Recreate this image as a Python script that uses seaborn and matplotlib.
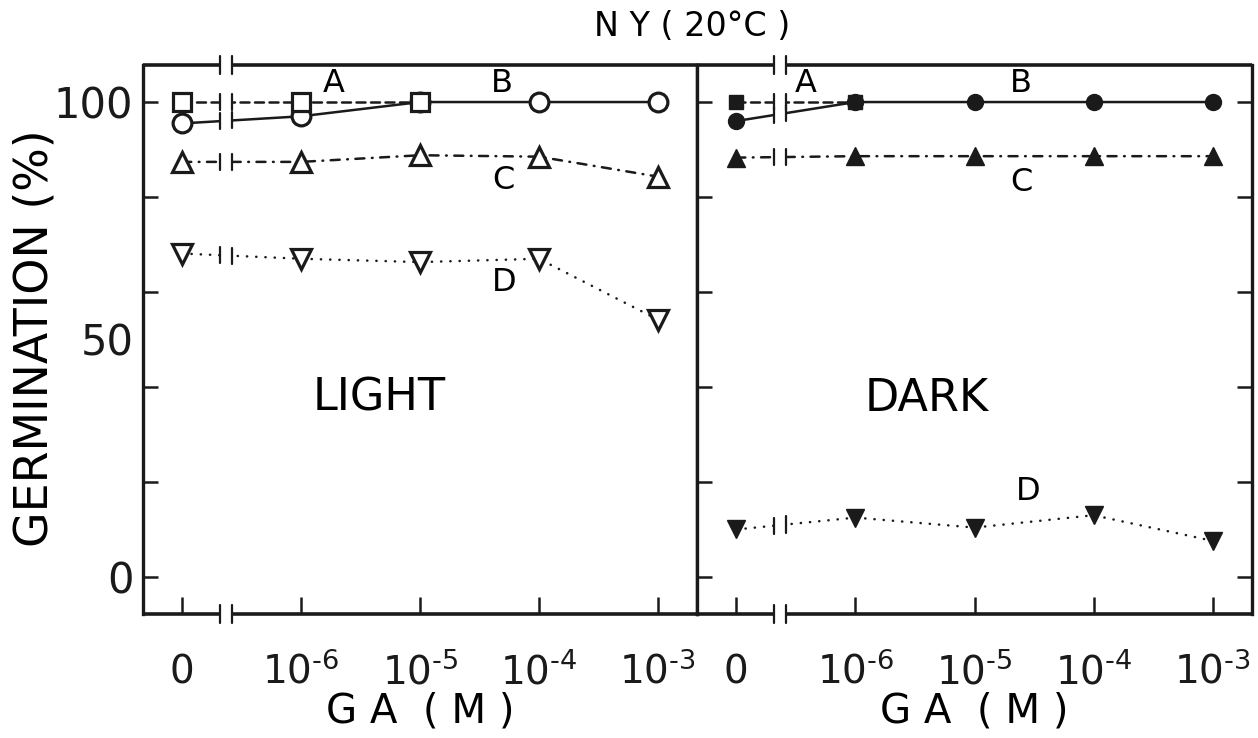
import numpy as np
import matplotlib
matplotlib.use("Agg")
import matplotlib.pyplot as plt
import seaborn as sns
from matplotlib.transforms import blended_transform_factory

sns.set_theme(style="white")
plt.rcParams["font.family"] = ["DejaVu Sans"]
plt.rcParams["mathtext.fontset"] = "dejavusans"
for k in ("text.color", "axes.labelcolor", "xtick.color", "ytick.color",
          "axes.edgecolor"):
    plt.rcParams[k] = "black"

# ---------------- data ----------------
conc_labels = ["0", r"$10^{\text{-}6}$", r"$10^{\text{-}5}$",
               r"$10^{\text{-}4}$", r"$10^{\text{-}3}$"]
conc_pos = [0, 1, 2, 3, 4]

light_A_pos = [0, 1, 2]
light_A = [100, 100, 100]
light_B = [95.5, 97, 100, 100, 100]
light_C = [87.4, 87.4, 88.8, 88.5, 84.3]
light_D = [68.1, 67.0, 66.3, 67.0, 54.2]

dark_A_pos = [0, 1]
dark_A = [100, 100]
dark_B = [96, 100, 100, 100, 100]
dark_C = [88.3, 88.6, 88.6, 88.6, 88.6]
dark_D = [10.0, 12.5, 10.4, 13.0, 7.6]

series_names = ["A", "B", "C", "D"]
panel_names = ["LIGHT", "DARK"]
y_major = [0, 20, 40, 60, 80, 100]
y_labelled = [0, 50, 100]

# ---------------- styles ----------------
BRK = (0.32, 0.42)
LW = 1.8
styles = {
    "A": dict(marker="s", linestyle=(0, (3.6, 2.2))),
    "B": dict(marker="o", linestyle="-"),
    "C": dict(marker="^", linestyle=(0, (3.6, 3.0, 0.3, 3.0))),
    "D": dict(marker="v", linestyle=(0, (0.1, 3.6))),
}
msize = {"A": 12.5, "B": 13.5, "C": 15, "D": 15}

fig = plt.figure(figsize=(12.58, 7.38), dpi=100)
ax_l = fig.add_axes([143 / 1258, 1 - 614 / 738, (697 - 143) / 1258, (614 - 65) / 738])
ax_r = fig.add_axes([697 / 1258, 1 - 614 / 738, (1252 - 697) / 1258, (614 - 65) / 738])

panels = [
    (ax_l, {"A": (light_A_pos, light_A), "B": (conc_pos, light_B),
            "C": (conc_pos, light_C), "D": (conc_pos, light_D)}, False),
    (ax_r, {"A": (dark_A_pos, dark_A), "B": (conc_pos, dark_B),
            "C": (conc_pos, dark_C), "D": (conc_pos, dark_D)}, True),
]

for ax, data, filled in panels:
    for name in series_names:
        xs, ys = data[name]
        st = styles[name]
        ms = msize[name] * (0.85 if filled else 1.0)
        sns.lineplot(x=xs, y=ys, ax=ax, color="k", lw=LW,
                     linestyle=st["linestyle"], marker=st["marker"],
                     ms=ms, mfc=("k" if filled else "white"), mec="k",
                     mew=(1.0 if filled else 2.3), dash_capstyle="round",
                     zorder=4 if name == "A" else 3)
    # gap in the lines between 0 and 10^-6
    ax.axvspan(BRK[0], BRK[1], color="white", zorder=5, lw=0)
    for name in series_names:
        xs, ys = data[name]
        for b in BRK:
            yb = np.interp(b, xs[:2], ys[:2])
            ax.plot([b, b], [yb - 1.7, yb + 1.7], color="k", lw=1.6, zorder=6)

    ax.set_xlim(-0.33, 4.33)
    ax.set_ylim(-7.8, 107.8)
    ax.set_xlabel("")
    ax.set_ylabel("")

    # spines with break
    for s in ("top", "bottom"):
        ax.spines[s].set_visible(False)
    for s in ("left", "right"):
        ax.spines[s].set_linewidth(2.4)
        ax.spines[s].set_color("k")
    tr = blended_transform_factory(ax.transData, ax.transAxes)
    for yy in (0, 1):
        ax.plot([-0.33, BRK[0]], [yy, yy], color="k", lw=2.6, transform=tr,
                clip_on=False, zorder=7, solid_capstyle="butt")
        ax.plot([BRK[1], 4.33], [yy, yy], color="k", lw=2.6, transform=tr,
                clip_on=False, zorder=7, solid_capstyle="butt")
        for b in BRK:
            ax.plot([b, b], [yy - 0.016, yy + 0.016], color="k", lw=1.6,
                    transform=tr, clip_on=False, zorder=7)

    # x ticks
    ax.set_xticks(conc_pos)
    ax.set_xticklabels(conc_labels, va="baseline")
    ax.tick_params(axis="x", which="major", direction="in", length=12, width=1.8,
                   color="k", bottom=True, top=False, pad=50, labelsize=28,
                   labelcolor="k")

    # y ticks
    ax.yaxis.remove_overlapping_locs = False
    ax.set_yticks(y_major)
    ax.tick_params(axis="y", which="major", direction="in", length=11, width=1.8,
                   color="k", left=True, right=filled, labelleft=False)
    if not filled:
        ax.set_yticks(y_labelled, minor=True)
        ax.set_yticklabels([str(v) for v in y_labelled], minor=True)
        ax.tick_params(axis="y", which="minor", length=0, pad=7, labelsize=30,
                       labelcolor="k", left=True)
    ax.grid(False)

# series letters
lbl_fs = 23
ax_l.text(1.27, 104, "A", fontsize=lbl_fs, ha="center", va="center")
ax_l.text(2.69, 104, "B", fontsize=lbl_fs, ha="center", va="center")
ax_l.text(2.70, 83.4, "C", fontsize=lbl_fs, ha="center", va="center")
ax_l.text(2.71, 62.1, "D", fontsize=lbl_fs, ha="center", va="center")
ax_l.text(1.66, 37.6, panel_names[0], fontsize=32, ha="center", va="center")

ax_r.text(0.58, 103.8, "A", fontsize=lbl_fs, ha="center", va="center")
ax_r.text(2.39, 103.8, "B", fontsize=lbl_fs, ha="center", va="center")
ax_r.text(2.39, 83.1, "C", fontsize=lbl_fs, ha="center", va="center")
ax_r.text(2.45, 17.9, "D", fontsize=lbl_fs, ha="center", va="center")
ax_r.text(1.60, 37.6, panel_names[1], fontsize=32, ha="center", va="center")

# axis titles
fig.text(35 / 1258, 1 - 338 / 738, "GERMINATION (%)", rotation=90,
         ha="center", va="center", fontsize=33)
for cx in ((143 + 697) / 2, (697 + 1252) / 2):
    fig.text(cx / 1258, 1 - 711 / 738, "G A  ( M )", ha="center", va="center",
             fontsize=29)
fig.text(692 / 1258, 1 - 26 / 738, "N Y ( 20°C )", ha="center", va="center",
         fontsize=24)

fig.savefig("out.png", dpi=100, facecolor="white")
